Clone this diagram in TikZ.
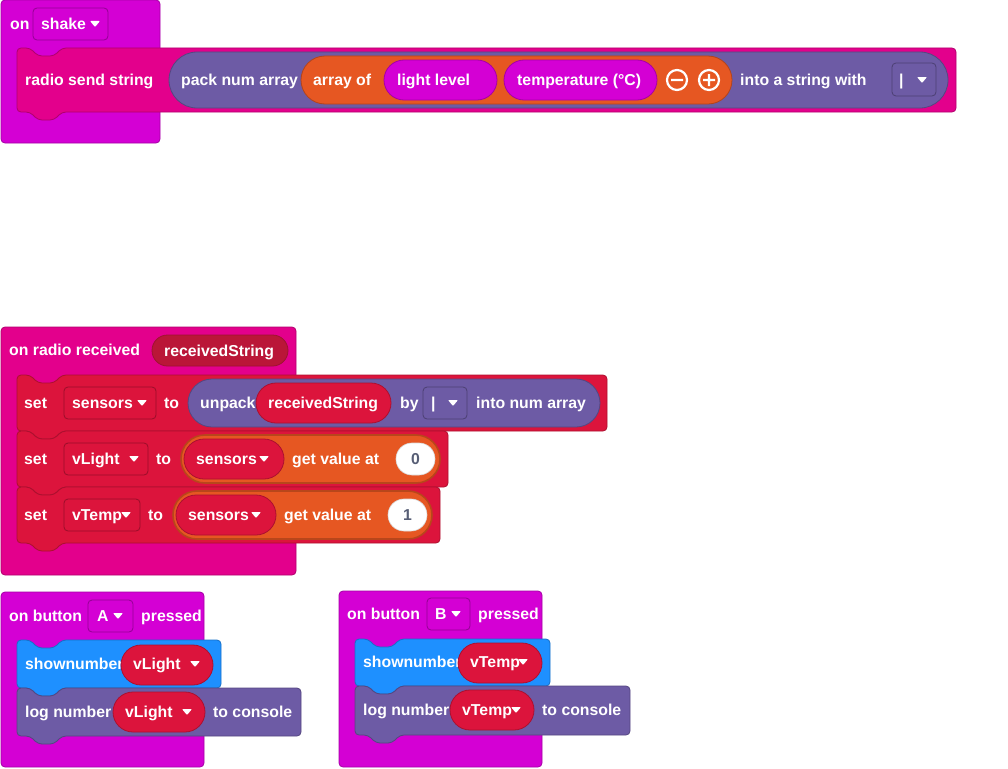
\documentclass[tikz,border=0pt]{standalone}
\usepackage{fontspec}
\setmainfont{Liberation Sans}
\definecolor{evmag}{HTML}{D400D4}
\definecolor{radiopink}{HTML}{E3008C}
\definecolor{varred}{HTML}{DC143C}
\definecolor{argred}{HTML}{BA1638}
\definecolor{txtpurple}{HTML}{6D5BA5}
\definecolor{arrorange}{HTML}{E65722}
\definecolor{basicblue}{HTML}{1E90FF}
\definecolor{numgrey}{HTML}{575E75}
\tikzset{
  lbl/.style={anchor=base west,inner sep=0pt,text=white,yshift=-5.6pt,font=\fontsize{15.8}{18}\selectfont\bfseries},
  numlbl/.style={anchor=base,inner sep=0pt,text=numgrey,yshift=-5.6pt,font=\fontsize{15.8}{18}\selectfont\bfseries},
  blk/.style={line width=.8pt,draw=#1!78!black,fill=#1},
}
\newcommand\hatblock[5]{\draw[blk=#5,rounded corners=4pt] (#1,#2) rectangle (#3,#4);}
\newcommand\stmtblock[5]{\draw[blk=#5,rounded corners=4pt] (#1,#2+20) -- (#1,#2) -- (#1+13,#2) -- (#1+21,#2+8) -- (#1+37,#2+8) -- (#1+45,#2) -- (#3,#2) -- (#3,#4) -- (#1+45,#4) -- (#1+37,#4+8) -- (#1+21,#4+8) -- (#1+13,#4) -- (#1,#4) -- cycle;}
\newcommand\pillshape[5]{\pgfmathsetmacro\pillr{(#4-#2)/2-0.01}\draw[blk=#5,rounded corners=\pillr pt] (#1,#2) rectangle (#3,#4);}
\newcommand\ddbox[5]{\draw[blk=#5,draw=#5!70!black,rounded corners=4pt] (#1,#2) rectangle (#3,#4);}
\newcommand\ddarrow[2]{\fill[white,rounded corners=.8pt] (#1-5,#2-3) -- (#1+5,#2-3) -- (#1,#2+3) -- cycle;}
\begin{document}
\begin{tikzpicture}[x=1pt,y=-1pt]
\useasboundingbox (0,0) rectangle (1008,768);

\hatblock{1}{0}{160}{143}{evmag}
\node[lbl] (on1) at (10,24) {on};
\ddbox{33}{8}{108}{40}{evmag}
\node[lbl] (shake) at (41,24) {shake};
\ddarrow{95}{24}
\stmtblock{17}{48}{956}{112}{radiopink}
\node[lbl] (sendstr) at (25,80) {radio send string};
\pillshape{169}{52}{948}{108}{txtpurple}
\node[lbl] (pack) at (181,80) {pack num array};
\pillshape{301}{56}{732}{104}{arrorange}
\node[lbl] (arrof) at (313,80) {array of};
\pillshape{384}{60}{497}{100}{evmag}
\node[lbl] (light) at (397,80) {light level};
\pillshape{504}{60}{657}{100}{evmag}
\node[lbl] (temp) at (517,80) {temperature (°C)};
\draw[white,line width=2.2pt] (677,80) circle[radius=10pt] (671,80) -- (683,80);
\draw[white,line width=2.2pt] (709,80) circle[radius=10pt] (703,80) -- (715,80) (709,74) -- (709,86);
\node[lbl] (intostr) at (740,80) {into a string with};
\ddbox{892}{63}{936}{96}{txtpurple}
\node[lbl] (sep1) at (899,80) {|};
\ddarrow{922}{80}

\hatblock{1}{327}{296}{575}{radiopink}
\node[lbl] (onrecv) at (9,350) {on radio received};
\draw[fill=argred,draw=argred!85!black,line width=.8pt,rounded corners=15.5pt] (152,335) rectangle (288,366);
\node[lbl] (recvarg) at (164,351) {receivedString};
\stmtblock{17}{375}{607}{431}{varred}
\node[lbl] (set1) at (24,403) {set};
\ddbox{64}{387}{156}{419}{varred}
\node[lbl] (sens1) at (72,403) {sensors};
\ddarrow{142}{403}
\node[lbl] (to1) at (164,403) {to};
\pillshape{188}{379}{600}{427}{txtpurple}
\node[lbl] (unpack) at (200,403) {unpack};
\pillshape{256}{383}{391}{423}{varred}
\node[lbl] (recvvar) at (268,403) {receivedString};
\node[lbl] (by) at (400,403) {by};
\ddbox{423}{387}{467}{419}{txtpurple}
\node[lbl] (sep2) at (431,403) {|};
\ddarrow{453}{403}
\node[lbl] (intonum) at (476,403) {into num array};

\stmtblock{17}{431}{448}{487}{varred}
\node[lbl] (set2) at (24,459) {set};
\ddbox{64}{443}{148}{475}{varred}
\node[lbl] (vlight1) at (72,459) {vLight};
\ddarrow{134}{459}
\node[lbl] (to2) at (156,459) {to};
\draw[fill=arrorange,draw=arrorange!80!black,line width=1.6pt,rounded corners=23.9pt] (181,435) rectangle (440,483);
\pillshape{184}{439}{284}{479}{varred}
\node[lbl] (sens2) at (196,459) {sensors};
\ddarrow{264}{459}
\node[lbl] (getv1) at (292,459) {get value at};
\draw[fill=white,draw=black!15,line width=.6pt,rounded corners=15.9pt] (396,443) rectangle (435,475);
\node[numlbl] (idx0) at (415.5,459) {0};

\stmtblock{17}{487}{440}{543}{varred}
\node[lbl] (set3) at (24,515) {set};
\ddbox{64}{499}{140}{531}{varred}
\node[lbl] (vtemp1) at (72,515) {vTemp};
\ddarrow{126}{515}
\node[lbl] (to3) at (148,515) {to};
\draw[fill=arrorange,draw=arrorange!80!black,line width=1.6pt,rounded corners=23.9pt] (173,491) rectangle (432,539);
\pillshape{176}{495}{276}{535}{varred}
\node[lbl] (sens3) at (188,515) {sensors};
\ddarrow{256}{515}
\node[lbl] (getv2) at (284,515) {get value at};
\draw[fill=white,draw=black!15,line width=.6pt,rounded corners=15.9pt] (388,499) rectangle (427,531);
\node[numlbl] (idx1) at (407.5,515) {1};

\hatblock{1}{592}{204}{767}{evmag}
\node[lbl] (onbtnA) at (9,616) {on button};
\ddbox{88}{600}{133}{632}{evmag}
\node[lbl] (btnA) at (97,616) {A};
\ddarrow{118}{616}
\node[lbl] (pressA) at (141,616) {pressed};
\stmtblock{17}{640}{221}{688}{basicblue}
\node[lbl] (showA) at (25,664) {shownumber};
\pillshape{121}{645}{213}{685}{varred}
\node[lbl] (vlight2) at (133,664) {vLight};
\ddarrow{195}{664}
\stmtblock{17}{688}{301}{736}{txtpurple}
\node[lbl] (logA) at (25,712) {log number};
\pillshape{113}{692}{205}{732}{varred}
\node[lbl] (vlight3) at (125,712) {vLight};
\ddarrow{187}{712}
\node[lbl] (consA) at (213,712) {to console};

\hatblock{339}{591}{542}{767}{evmag}
\node[lbl] (onbtnB) at (347,614) {on button};
\ddbox{427}{598}{470}{630}{evmag}
\node[lbl] (btnB) at (435,614) {B};
\ddarrow{456}{614}
\node[lbl] (pressB) at (478,614) {pressed};
\stmtblock{355}{639}{550}{686}{basicblue}
\node[lbl] (showB) at (363,662) {shownumber};
\pillshape{458}{643}{542}{683}{varred}
\node[lbl] (vtemp2) at (470,662) {vTemp};
\ddarrow{523}{662}
\stmtblock{355}{686}{630}{735}{txtpurple}
\node[lbl] (logB) at (363,710) {log number};
\pillshape{450}{690}{534}{730}{varred}
\node[lbl] (vtemp3) at (462,710) {vTemp};
\ddarrow{516}{710}
\node[lbl] (consB) at (542,710) {to console};
\end{tikzpicture}
\end{document}
